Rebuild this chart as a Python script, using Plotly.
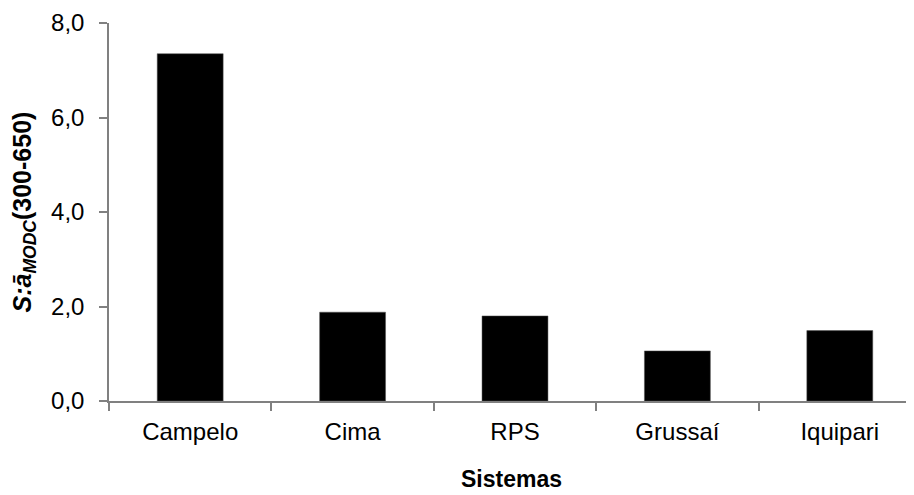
import plotly.graph_objects as go

# Values
sistemas = ['Campelo', 'Cima', 'RPS', 'Grussaí', 'Iquipari']
s_modc = [7.35, 1.88, 1.80, 1.06, 1.49]
y_ticks = [0, 2, 4, 6, 8]

fig = go.Figure(go.Bar(
    x=sistemas,
    y=s_modc,
    marker=dict(color='black', line=dict(color='#555555', width=0.5)),
))

# the page body adds an 8px offset, so margins are shifted by 8
axis_grey = '#808080'
fig.update_layout(
    width=914, height=495,
    margin=dict(l=101, r=8, t=15, b=102, autoexpand=False),
    plot_bgcolor='white', paper_bgcolor='white',
    font=dict(family='Liberation Sans, Arial, sans-serif', size=24, color='black'),
    separators=',.',
    bargap=0.594,
    showlegend=False,
)
fig.update_xaxes(
    range=[-0.5, 4.457], automargin=False,
    showline=True, linecolor=axis_grey, linewidth=1.5,
    ticks='outside', tickson='boundaries', ticklen=8, tickcolor=axis_grey, tickwidth=1.5,
    showgrid=False, zeroline=False,
    tickfont=dict(size=24), ticklabelstandoff=8,
    title=dict(text='<b>Sistemas</b>', font=dict(size=23), standoff=27),
)
fig.update_yaxes(
    range=[0, 8], automargin=False,
    tickvals=y_ticks, tickformat='.1f',
    showline=True, linecolor=axis_grey, linewidth=1.5,
    ticks='outside', ticklen=8, tickcolor=axis_grey, tickwidth=1.5,
    showgrid=False, zeroline=False,
    tickfont=dict(size=24), ticklabelstandoff=10,
    title=dict(text='<b><i>S:ā<sub>MODC</sub></i>(300-650)</b>', font=dict(size=25), standoff=18),
)

fig.write_html('out.html')
